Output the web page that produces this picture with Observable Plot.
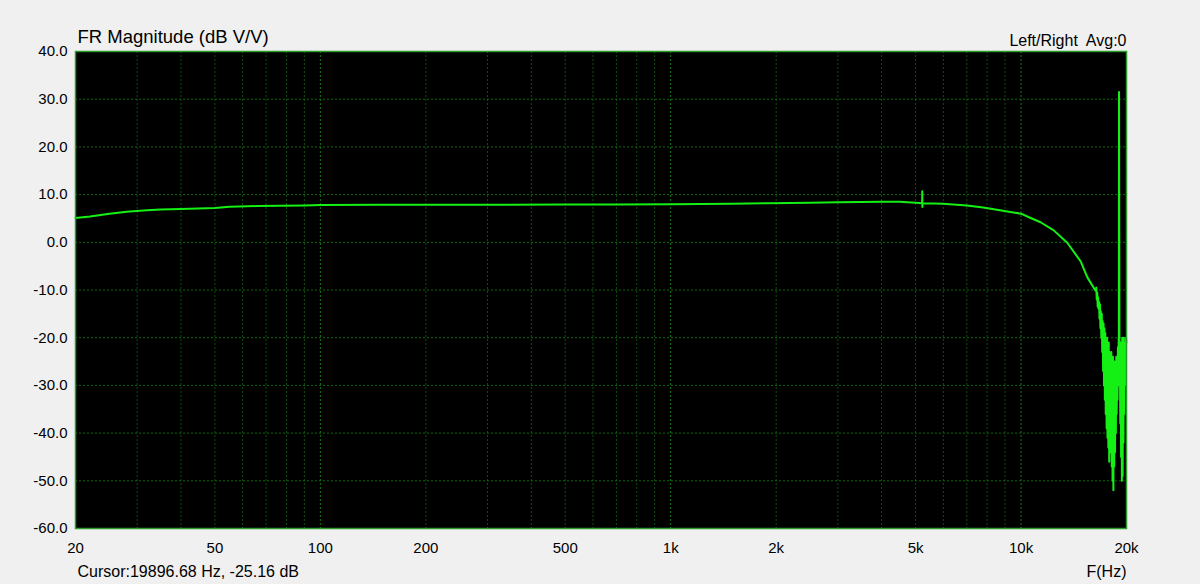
<!DOCTYPE html>
<html>
<head>
<meta charset="utf-8">
<script src="https://cdn.jsdelivr.net/npm/d3@7"></script>
<script src="https://cdn.jsdelivr.net/npm/@observablehq/plot@0.6"></script>
<style>
  html, body { margin: 0; padding: 0; background: #f0f0f0; }
  #chart svg text { white-space: pre; }
</style>
</head>
<body>
<div id="chart"></div>
<script>
// ---- Data ----
const title = "FR Magnitude (dB V/V)";
const legendText = "Left/Right  Avg:0";
const cursorText = "Cursor:19896.68 Hz, -25.16 dB";
const xAxisLabel = "F(Hz)";

const xTicks = [20, 50, 100, 200, 500, 1000, 2000, 5000, 10000, 20000];
const xTickLabels = ["20", "50", "100", "200", "500", "1k", "2k", "5k", "10k", "20k"];
const yTicks = [40, 30, 20, 10, 0, -10, -20, -30, -40, -50, -60];

const minorGridFreq = [30, 40, 50, 60, 70, 80, 90, 200, 300, 400, 500, 600, 700, 800, 900,
  2000, 3000, 4000, 5000, 6000, 7000, 8000, 9000];
const majorGridFreq = [100, 1000, 10000];
const yGrid = [30, 20, 10, 0, -10, -20, -30, -40, -50];

// smooth part of the response
const mainFreq = [20, 22, 25, 28, 32, 35, 40, 50, 55, 66, 90, 100, 150, 200, 300, 500, 700,
  1000, 1500, 1900, 2500, 3000, 3500, 4000, 4500, 5000, 5220, 5224, 5228, 5232,
  6000, 7000, 7800, 8700, 10000, 10650, 11370, 12400, 13550, 14800, 15450, 16300];
const mainDb = [5.1, 5.4, 6.0, 6.4, 6.7, 6.9, 7.0, 7.2, 7.45, 7.6, 7.7, 7.8, 7.85, 7.85, 7.86, 7.9, 7.9,
  8.0, 8.1, 8.2, 8.3, 8.4, 8.45, 8.5, 8.5, 8.3, 8.2, 10.7, 7.4, 8.2,
  8.1, 7.7, 7.3, 6.7, 6.0, 5.1, 4.2, 2.5, -0.1, -4.0, -7.3, -10.1];

// noisy top end of the response
const noiseFreq = [16400, 16450, 16500, 16550, 16600, 16650, 16700, 16750, 16800, 16850, 16900,
  16950, 17000, 17050, 17100, 17150, 17200, 17250, 17300, 17350, 17400, 17450,
  17500, 17550, 17600, 17650, 17700, 17750, 17800, 17850, 17900, 17950, 18000, 18050,
  18100, 18150, 18200, 18250, 18300, 18350, 18400, 18450, 18500, 18550, 18600, 18650,
  18700, 18750, 18800, 18850, 18900, 18950, 19000, 19018, 19040, 19100, 19150, 19200,
  19250, 19300, 19350, 19400, 19450, 19500, 19550, 19600, 19650, 19700, 19750, 19800,
  19850, 19900, 19950, 20000];
const noiseDb = [-9.5, -12, -10.5, -13.5, -11.5, -14, -12.5, -16, -13, -18, -14.5,
  -20, -15, -23, -16.5, -27, -17, -30, -18, -33, -19, -36,
  -21, -39, -20, -41, -22, -43, -21, -46, -23, -38, -24, -44,
  -23, -47, -25, -50, -24, -52, -26, -47, -25, -44, -27, -40,
  -24, -36, -28, -33, -22, -30, -20, -26, 31.5, -28, -24, -38,
  -21, -45, -22, -50, -20, -49, -23, -42, -20, -36, -22, -30,
  -21, -27, -20, -21];

// ---- Build table ----
const curve = mainFreq.map((f, i) => ({f, db: mainDb[i]}))
  .concat(noiseFreq.map((f, i) => ({f, db: noiseDb[i]})));
const xLabelRows = xTicks.map((f, i) => ({f, label: xTickLabels[i]}));

const font = "'Liberation Sans', Arial, sans-serif";

const chart = Plot.plot({
  width: 1200,
  height: 584,
  marginLeft: 75,
  marginRight: 74,
  marginTop: 51,
  marginBottom: 56,
  style: {background: "#f0f0f0", fontFamily: font, color: "#000"},
  x: {type: "log", domain: [20, 20000], axis: null},
  y: {domain: [-60, 40], axis: null},
  marks: [
    Plot.frame({fill: "#000"}),
    Plot.ruleX(minorGridFreq, {stroke: "#0b520b", strokeWidth: 1, strokeDasharray: "2,2"}),
    Plot.ruleX(majorGridFreq, {stroke: "#0f7a0f", strokeWidth: 1, strokeDasharray: "2,2"}),
    Plot.ruleY(yGrid, {stroke: "#0b6a0b", strokeWidth: 1, strokeDasharray: "2,2"}),
    Plot.line(curve, {x: "f", y: "db", stroke: "#14f014", strokeWidth: 2}),
    Plot.frame({stroke: "#2a9a2a", strokeWidth: 1.5}),
    Plot.text(xLabelRows, {x: "f", text: "label", frameAnchor: "bottom", dy: 24, lineAnchor: "bottom", fontSize: 15, fill: "#000"}),
    Plot.text(yTicks, {y: d => d, text: d => d.toFixed(1), frameAnchor: "left", dx: -8, textAnchor: "end", lineAnchor: "middle", fontSize: 15, fill: "#000"}),
    Plot.text([title], {frameAnchor: "top-left", dx: 2, dy: -9, textAnchor: "start", lineAnchor: "bottom", fontSize: 18.5, fill: "#000"}),
    Plot.text([legendText], {frameAnchor: "top-right", dx: 0, dy: -6, textAnchor: "end", lineAnchor: "bottom", fontSize: 16, fill: "#000"}),
    Plot.text([cursorText], {frameAnchor: "bottom-left", dx: 2, dy: 48, textAnchor: "start", lineAnchor: "bottom", fontSize: 16, fill: "#000"}),
    Plot.text([xAxisLabel], {frameAnchor: "bottom-right", dx: 0, dy: 48, textAnchor: "end", lineAnchor: "bottom", fontSize: 16, fill: "#000"})
  ]
});
document.getElementById("chart").appendChild(chart);
</script>
</body>
</html>
